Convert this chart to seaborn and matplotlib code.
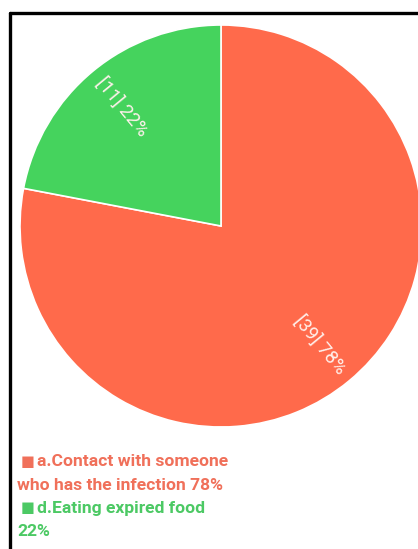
import numpy as np
import matplotlib
matplotlib.use('Agg')
import matplotlib.pyplot as plt
import seaborn as sns

# --- Data ---
categories = ['a.Contact with someone\nwho has the infection', 'd.Eating expired food']
counts = [39, 11]
colors = ['#FF6A4B', '#45D35D']
legend_colors = ['#F0705A', '#4CC964']

sns.set_theme(style='white')
plt.rcParams['font.family'] = ['Roboto', 'DejaVu Sans']

total = sum(counts)
pcts = [round(100 * c / total) for c in counts]

fig = plt.figure(figsize=(4.18, 5.49), dpi=100)
W, H = 418, 549

# pie: centre (221, 226) px, radius 201 px
cx, cy, r = 221, 226, 201
ax = fig.add_axes([(cx - r) / W, 1 - (cy + r) / H, 2 * r / W, 2 * r / H])
wedges, _ = ax.pie(counts, colors=colors, startangle=90, counterclock=False,
                   radius=1, wedgeprops=dict(edgecolor='white', linewidth=1.2))
ax.set_xlim(-1, 1)
ax.set_ylim(-1, 1)
ax.set_aspect('equal')
ax.axis('off')

# radial labels inside wedges
for w, c, p in zip(wedges, counts, pcts):
    mid = np.deg2rad((w.theta1 + w.theta2) / 2)
    x, y = 0.77 * np.cos(mid), 0.77 * np.sin(mid)
    rot = np.rad2deg(mid)
    if rot > 90:
        rot -= 180
    if rot < -90:
        rot += 180
    ax.text(x, y, f'[{c}] {p}%', color='#FFF1EC', fontsize=13.5,
            rotation=rot, rotation_mode='anchor', ha='center', va='center')

# frame lines (top and left)
fig.add_artist(plt.Line2D([10 / W, 1], [1 - 13 / H, 1 - 13 / H], color='black', linewidth=2.4))
fig.add_artist(plt.Line2D([10 / W, 10 / W], [0, 1 - 13 / H], color='black', linewidth=2.4))

# legend as coloured text
lines = [
    (21, 462, '■', legend_colors[0], 37, 'a.Contact with someone'),
    (17, 485, None, legend_colors[0], 17, f'who has the infection {pcts[0]}%'),
    (21, 508, '■', legend_colors[1], 37, 'd.Eating expired food'),
    (17, 531, None, legend_colors[1], 17, f'{pcts[1]}%'),
]
for sx, y, sym, col, tx, txt in lines:
    if sym:
        fig.text(sx / W, 1 - y / H, sym, color=col, fontsize=10.5, va='center', ha='left',
                 family='DejaVu Sans')
    fig.text(tx / W, 1 - y / H, txt, color=col, fontsize=12.6, fontweight='bold',
             va='center', ha='left')

fig.savefig('out.png', dpi=100)
